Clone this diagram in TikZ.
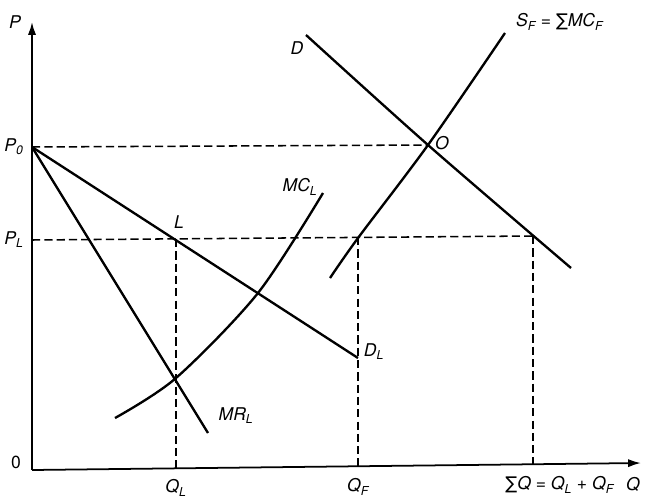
\documentclass[tikz,border=0pt]{standalone}
\usepackage{fontspec}
\setmainfont{TeX Gyre Heros}
\newfontfamily\symfont{DejaVu Sans}
\usepackage{tikz}
\usetikzlibrary{arrows.meta}
\newcommand{\lbl}[2]{\textit{#1}\textsubscript{\textit{#2}}}
\newcommand{\sumsign}{{\symfont ∑}}

\begin{document}
\begin{tikzpicture}[x=0.03cm,y=-0.03cm,font=\fontsize{15}{17}\selectfont\itshape,
  curve/.style={line width=2pt},
  guide/.style={line width=1.3pt,dash pattern=on 7pt off 3.5pt},
  axis/.style={line width=1.5pt,-{Latex[length=11pt,width=7pt]}}]
\useasboundingbox (0,0) rectangle (650,501);
% axes
\coordinate (O0) at (32,470);
\coordinate (Ptop) at (32,22);
\coordinate (Qend) at (641,463);
\draw[axis] (O0) -- (Ptop);
\draw[axis] (O0) -- (Qend);
\node (lP) at (15,22) {P};
\node[font=\fontsize{15}{17}\selectfont\upshape] (l0) at (16,462) {0};
\node (lQ) at (633,484) {Q};
% key points
\coordinate (P0) at (32,147);
\coordinate (PL) at (32,240);
\coordinate (L) at (176,239);
\coordinate (O) at (428,145);
\coordinate (F) at (358,237);
\coordinate (S) at (533,236);
\coordinate (QL) at (176,470);
\coordinate (QF) at (358,466);
\coordinate (QS) at (533,464);
% dashed guides
\draw[guide] (P0) -- (O);
\draw[guide] (PL) -- (S);
\draw[guide] (L) -- (QL);
\draw[guide] (F) -- (QF);
\draw[guide] (S) -- (QS);
% curves
\coordinate (DLend) at (358,358);
\coordinate (MRend) at (208,433);
\draw[curve] (P0) -- (DLend);
\draw[curve] (P0) -- (MRend);
\draw[curve] plot[smooth] coordinates {(115,418) (176,378) (258,293) (323,193)};
\draw[curve] plot[smooth] coordinates {(330,278) (358,238) (428,145) (505,33)};
\draw[curve] plot[smooth] coordinates {(306,35) (428,145) (571,268)};
% labels
\node (lP0) at (14,147) {\lbl{P}{0}};
\node (lPL) at (14,240) {\lbl{P}{L}};
\node (lL) at (179,222) {L};
\node (lO) at (442,143) {O};
\node (lD) at (297,48) {D};
\node (lDL) at (374,352) {\lbl{D}{L}};
\node (lMR) at (236,416) {\lbl{MR}{L}};
\node (lMC) at (300,187) {\lbl{MC}{L}};
\node[anchor=west] (lSF) at (512,22) {\lbl{S}{F} = \sumsign\textit{MC}\textsubscript{\textit{F}}};
\node (lQL) at (176,488) {\lbl{Q}{L}};
\node (lQF) at (358,487) {\lbl{Q}{F}};
\node[anchor=east] (lSum) at (618,485) {\sumsign\textit{Q} = \lbl{Q}{L} + \lbl{Q}{F}};
\end{tikzpicture}
\end{document}
